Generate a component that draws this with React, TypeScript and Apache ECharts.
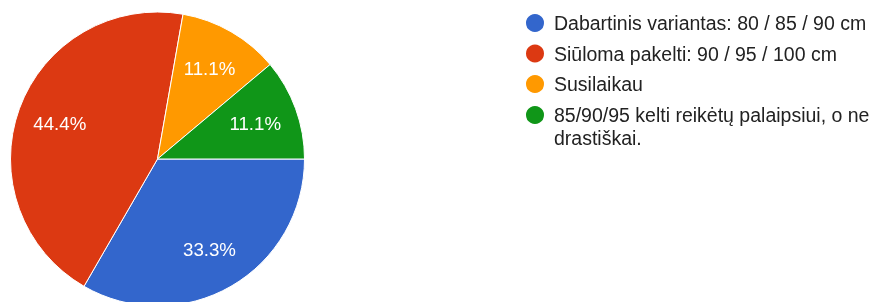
import React, { useEffect, useRef } from "react";
import * as echarts from "echarts";

const categories = [
  "Dabartinis variantas: 80 / 85 / 90 cm",
  "Siūloma pakelti: 90 / 95 / 100 cm",
  "Susilaikau",
  "85/90/95 kelti reikėtų palaipsiui, o ne drastiškai.",
];
const values = [3, 4, 1, 1];
const colors = ["#3366cc", "#dc3912", "#ff9900", "#109618"];

export default function App() {
  const ref = useRef<HTMLDivElement>(null);
  useEffect(() => {
    if (!ref.current) return;
    const chart = echarts.init(ref.current, undefined, { renderer: "svg" });
    const total = values.reduce((a, b) => a + b, 0);
    const data = categories.map((name, i) => ({
      name,
      value: values[i],
      itemStyle: { color: colors[i] },
    }));
    const legendText = {
      fontFamily: "Liberation Sans, Arial, sans-serif",
      fontSize: 19.5,
      lineHeight: 23,
      color: "#222222",
    };
    const legendBase = {
      orient: "vertical",
      left: 519,
      itemWidth: 28,
      itemHeight: 20,
      itemGap: 7.5,
      icon: "circle",
      selectedMode: false,
      textStyle: legendText,
    };
    chart.setOption({
      animation: false,
      legend: [
        {
          ...legendBase,
          top: 6.5,
          data: categories.slice(0, 3),
        },
        {
          ...legendBase,
          top: 75.5,
          data: categories.slice(3),
          formatter: () =>
            "\n85/90/95 kelti reikėtų palaipsiui, o ne\ndrastiškai.",
        },
      ],
      series: [
        {
          type: "pie",
          center: [157.5, 159],
          radius: [0, 147],
          startAngle: 0,
          clockwise: true,
          label: { show: false },
          labelLine: { show: false },
          itemStyle: { borderColor: "#ffffff", borderWidth: 1 },
          emphasis: { disabled: true },
          data,
        },
        {
          type: "pie",
          center: [157.5, 159],
          radius: [60, 142],
          startAngle: 0,
          clockwise: true,
          silent: true,
          legendHoverLink: false,
          itemStyle: { color: "rgba(0,0,0,0)", borderWidth: 0 },
          label: {
            show: true,
            position: "inside",
            color: "#ffffff",
            fontFamily: "Liberation Sans, Arial, sans-serif",
            fontSize: 18.7,
            formatter: (p: any) => ((p.value / total) * 100).toFixed(1) + "%",
          },
          labelLine: { show: false },
          emphasis: { disabled: true },
          data: categories.map((name, i) => ({
            name,
            value: values[i],
            itemStyle: { color: "rgba(0,0,0,0)" },
          })),
        },
      ],
    });
    return () => chart.dispose();
  }, []);
  return (
    <div
      ref={ref}
      style={{ position: "fixed", left: 0, top: 0, width: 871, height: 302 }}
    />
  );
}
